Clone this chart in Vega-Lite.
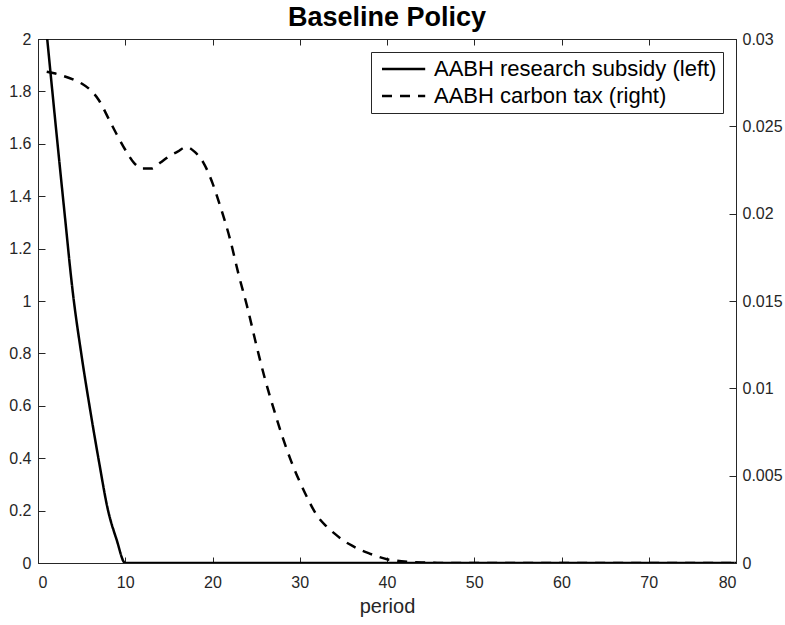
{
  "$schema": "https://vega.github.io/schema/vega-lite/v6.json",
  "width": 698,
  "height": 524,
  "autosize": {"type": "none"},
  "padding": {"left": 38, "top": 39, "right": 49, "bottom": 62},
  "background": "white",
  "title": {"text": "Baseline Policy", "fontSize": 27, "fontWeight": "bold", "font": "Liberation Sans", "color": "black", "anchor": "middle", "offset": -1},
  "config": {
    "font": "Liberation Sans",
    "view": {"stroke": "#262626", "strokeWidth": 1},
    "axis": {"grid": false, "domainColor": "#262626", "tickColor": "#262626", "labelColor": "#262626", "labelFontSize": 16, "labelFont": "Liberation Sans", "titleFont": "Liberation Sans", "domainWidth": 1, "tickWidth": 1}
  },
  "data": {"values": [
    {"period": 1, "subsidy": 2.02, "tax": 0.02813},
    {"period": 2, "subsidy": 1.68, "tax": 0.02802},
    {"period": 3, "subsidy": 1.35, "tax": 0.02787},
    {"period": 4, "subsidy": 1.03, "tax": 0.02769},
    {"period": 5, "subsidy": 0.79, "tax": 0.02745},
    {"period": 6, "subsidy": 0.58, "tax": 0.02708},
    {"period": 7, "subsidy": 0.385, "tax": 0.02648},
    {"period": 8, "subsidy": 0.205, "tax": 0.02553},
    {"period": 9, "subsidy": 0.09, "tax": 0.02456},
    {"period": 10, "subsidy": 0, "tax": 0.02366},
    {"period": 11, "subsidy": 0, "tax": 0.02291},
    {"period": 12, "subsidy": 0, "tax": 0.02258},
    {"period": 13, "subsidy": 0, "tax": 0.02258},
    {"period": 14, "subsidy": 0, "tax": 0.02291},
    {"period": 15, "subsidy": 0, "tax": 0.02328},
    {"period": 16, "subsidy": 0, "tax": 0.02355},
    {"period": 17, "subsidy": 0, "tax": 0.02382},
    {"period": 18, "subsidy": 0, "tax": 0.02352},
    {"period": 19, "subsidy": 0, "tax": 0.02288},
    {"period": 20, "subsidy": 0, "tax": 0.02175},
    {"period": 21, "subsidy": 0, "tax": 0.02025},
    {"period": 22, "subsidy": 0, "tax": 0.01856},
    {"period": 23, "subsidy": 0, "tax": 0.0165},
    {"period": 24, "subsidy": 0, "tax": 0.01463},
    {"period": 25, "subsidy": 0, "tax": 0.01253},
    {"period": 26, "subsidy": 0, "tax": 0.01056},
    {"period": 27, "subsidy": 0, "tax": 0.00885},
    {"period": 28, "subsidy": 0, "tax": 0.00725},
    {"period": 29, "subsidy": 0, "tax": 0.00585},
    {"period": 30, "subsidy": 0, "tax": 0.00465},
    {"period": 31, "subsidy": 0, "tax": 0.0036},
    {"period": 32, "subsidy": 0, "tax": 0.0027},
    {"period": 33, "subsidy": 0, "tax": 0.00213},
    {"period": 34, "subsidy": 0, "tax": 0.00168},
    {"period": 35, "subsidy": 0, "tax": 0.00129},
    {"period": 36, "subsidy": 0, "tax": 0.00099},
    {"period": 37, "subsidy": 0, "tax": 0.00074},
    {"period": 38, "subsidy": 0, "tax": 0.00054},
    {"period": 39, "subsidy": 0, "tax": 0.00036},
    {"period": 40, "subsidy": 0, "tax": 0.00021},
    {"period": 41, "subsidy": 0, "tax": 0.00014},
    {"period": 42, "subsidy": 0, "tax": 0.00008},
    {"period": 43, "subsidy": 0, "tax": 0.00005},
    {"period": 44, "subsidy": 0, "tax": 0.00003},
    {"period": 45, "subsidy": 0, "tax": 0.00002},
    {"period": 46, "subsidy": 0, "tax": 0},
    {"period": 47, "subsidy": 0, "tax": 0},
    {"period": 48, "subsidy": 0, "tax": 0},
    {"period": 49, "subsidy": 0, "tax": 0},
    {"period": 50, "subsidy": 0, "tax": 0},
    {"period": 51, "subsidy": 0, "tax": 0},
    {"period": 52, "subsidy": 0, "tax": 0},
    {"period": 53, "subsidy": 0, "tax": 0},
    {"period": 54, "subsidy": 0, "tax": 0},
    {"period": 55, "subsidy": 0, "tax": 0},
    {"period": 56, "subsidy": 0, "tax": 0},
    {"period": 57, "subsidy": 0, "tax": 0},
    {"period": 58, "subsidy": 0, "tax": 0},
    {"period": 59, "subsidy": 0, "tax": 0},
    {"period": 60, "subsidy": 0, "tax": 0},
    {"period": 61, "subsidy": 0, "tax": 0},
    {"period": 62, "subsidy": 0, "tax": 0},
    {"period": 63, "subsidy": 0, "tax": 0},
    {"period": 64, "subsidy": 0, "tax": 0},
    {"period": 65, "subsidy": 0, "tax": 0},
    {"period": 66, "subsidy": 0, "tax": 0},
    {"period": 67, "subsidy": 0, "tax": 0},
    {"period": 68, "subsidy": 0, "tax": 0},
    {"period": 69, "subsidy": 0, "tax": 0},
    {"period": 70, "subsidy": 0, "tax": 0},
    {"period": 71, "subsidy": 0, "tax": 0},
    {"period": 72, "subsidy": 0, "tax": 0},
    {"period": 73, "subsidy": 0, "tax": 0},
    {"period": 74, "subsidy": 0, "tax": 0},
    {"period": 75, "subsidy": 0, "tax": 0},
    {"period": 76, "subsidy": 0, "tax": 0},
    {"period": 77, "subsidy": 0, "tax": 0},
    {"period": 78, "subsidy": 0, "tax": 0},
    {"period": 79, "subsidy": 0, "tax": 0},
    {"period": 80, "subsidy": 0, "tax": 0}
  ]},
  "layer": [
    {
      "mark": {"type": "line", "color": "black", "strokeWidth": 2.5, "clip": true, "interpolate": "monotone"},
      "encoding": {
        "x": {"field": "period", "type": "quantitative", "scale": {"domain": [0, 80], "nice": false},
          "axis": {"orient": "bottom", "values": [0, 10, 20, 30, 40, 50, 60, 70, 80], "tickSize": -6, "labelPadding": 17, "title": "period", "titleFontSize": 20, "titleFontWeight": "normal", "titleColor": "#262626", "titleY": 33, "titleBaseline": "top"}},
        "y": {"field": "subsidy", "type": "quantitative", "scale": {"domain": [0, 2], "nice": false},
          "axis": {"orient": "left", "values": [0, 0.2, 0.4, 0.6, 0.8, 1, 1.2, 1.4, 1.6, 1.8, 2], "format": "~g", "tickSize": -7, "labelPadding": 14, "title": null}},
        "strokeDash": {"datum": "AABH research subsidy (left)", "type": "nominal",
          "scale": {"domain": ["AABH research subsidy (left)", "AABH carbon tax (right)"], "range": [[1, 0], [10, 8]]},
          "legend": {"title": null, "orient": "top-right", "offset": 13, "symbolType": "M-1,0H6.2", "symbolSize": 144, "symbolStrokeWidth": 2.5, "symbolStrokeColor": "black", "labelFontSize": 22, "labelColor": "black", "labelFont": "Liberation Sans", "padding": 6, "rowPadding": 5, "labelOffset": 35, "strokeColor": "#262626", "fillColor": "white", "labelLimit": 400}}
      }
    },
    {
      "mark": {"type": "line", "color": "black", "strokeWidth": 2.5, "clip": true, "interpolate": "monotone"},
      "encoding": {
        "x": {"field": "period", "type": "quantitative", "scale": {"domain": [0, 80], "nice": false},
          "axis": {"orient": "top", "values": [0, 10, 20, 30, 40, 50, 60, 70, 80], "tickSize": -6, "labels": false, "title": null}},
        "y": {"field": "tax", "type": "quantitative", "scale": {"domain": [0, 0.03], "nice": false},
          "axis": {"orient": "right", "values": [0, 0.005, 0.01, 0.015, 0.02, 0.025, 0.03], "format": "~g", "tickSize": -7, "labelPadding": 13, "title": null}},
        "strokeDash": {"datum": "AABH carbon tax (right)", "type": "nominal"}
      }
    }
  ],
  "resolve": {"scale": {"y": "independent"}, "axis": {"x": "independent"}}
}
